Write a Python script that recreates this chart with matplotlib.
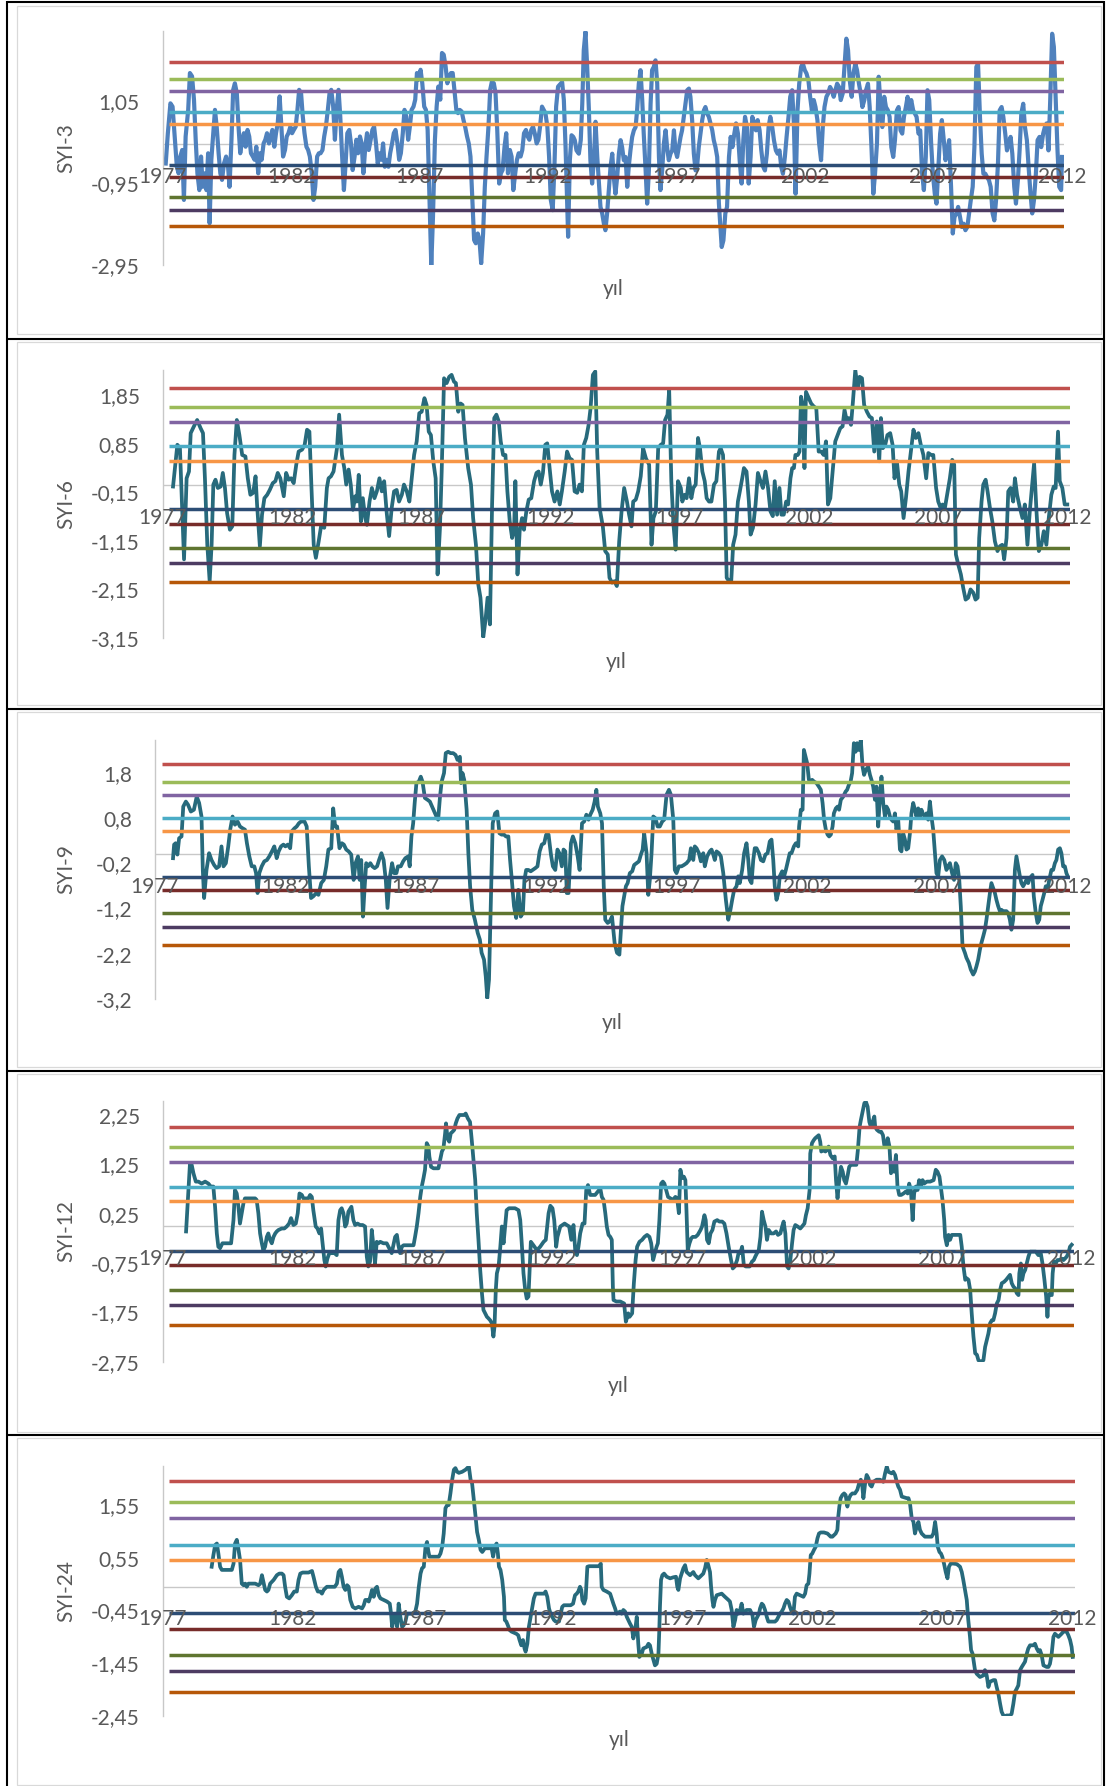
import matplotlib
matplotlib.use("Agg")
import matplotlib.pyplot as plt
from matplotlib.patches import Rectangle

# Standardised streamflow index (SYI) series, monthly positions counted from Jan 1977
syi3 = [
    (1.5, -0.47), (2.5, 0.27), (3.7, 1.0), (4.7, 0.92), (5.8, 0.11), (6.7, -0.55), (7.5, -0.71), (8.3, -0.30),
    (9.2, -0.14), (10.0, -1.36), (10.8, 0.19), (12.0, 0.84), (12.8, 1.74), (13.8, 1.66), (14.7, 1.09), (15.5, 0.11),
    (16.3, -0.71), (17.2, -1.12), (18.0, -0.30), (18.8, -1.04), (19.7, -0.71), (20.5, -1.12), (21.3, -0.22),
    (22.0, -1.93), (22.8, -0.38), (23.7, 0.27), (24.5, 0.84), (25.3, 0.43), (26.2, -0.22), (27.0, -0.71),
    (27.8, -0.87), (28.7, -0.47), (29.7, -0.30), (30.5, -0.47), (31.3, -1.04), (32.2, 0.11), (33.0, 1.33),
    (33.8, 1.49), (34.7, 1.25), (35.5, 0.43), (36.3, -0.22), (37.2, 0.11), (38.0, 0.27), (38.8, -0.06), (39.7, 0.35),
    (40.5, 0.19), (41.3, -0.22), (42.2, -0.30), (43.0, -0.38), (43.8, -0.06), (44.7, -0.71), (45.5, -0.22),
    (46.3, -0.38), (47.2, 0.02), (48.0, 0.11), (48.8, 0.27), (49.7, 0.02), (50.5, 0.19), (51.3, 0.35), (52.2, -0.06),
    (53.0, 0.27), (53.8, 0.51), (54.7, 1.17), (55.5, 0.43), (56.3, -0.30), (57.2, -0.14), (58.0, 0.19), (58.8, 0.27),
    (59.7, 0.43), (60.5, 0.27), (61.3, 0.35), (62.2, 0.43), (63.0, 0.84), (63.8, 1.33), (64.7, 1.25), (65.5, 0.68),
    (66.3, 0.27), (67.2, -0.06), (68.0, -0.14), (68.8, -0.30), (69.7, -0.71), (70.5, -1.36), (71.3, -1.04),
    (72.2, -0.30), (73.0, -0.22), (73.8, -0.22), (74.7, -0.14), (75.5, 0.19), (76.3, 0.43), (77.2, 0.84), (78.0, 1.25),
    (78.8, 1.33), (79.7, 0.92), (80.5, 0.11), (81.3, 0.84), (82.2, 1.33), (83.0, 0.68), (83.8, -0.22), (84.7, -1.12),
    (85.5, -0.47), (86.3, 0.27), (87.2, 0.35), (88.0, 0.02), (88.8, -0.63), (89.7, -0.30), (90.5, 0.11), (91.3, -0.22),
    (92.2, 0.19), (93.0, 0.02), (93.8, -0.71), (94.7, -0.06), (95.5, 0.27), (96.3, -0.14), (97.2, 0.11), (98.0, 0.35),
    (98.8, 0.43), (99.7, 0.02), (100.5, -0.47), (101.3, -0.22), (102.2, -0.38), (103.0, 0.02), (103.8, -0.55),
    (104.7, -0.38), (105.5, -0.55), (106.3, -0.22), (107.2, 0.02), (108.0, 0.27), (108.8, 0.35), (109.7, 0.02),
    (110.5, -0.38), (111.3, -0.22), (112.2, 0.27), (113.0, 0.84), (113.8, 0.68), (114.7, 0.11), (115.5, 0.43),
    (116.3, 0.84), (117.2, 0.92), (118.0, 1.09), (118.8, 1.74), (119.7, 1.58), (120.5, 1.82), (121.3, 1.49),
    (122.2, 0.92), (123.0, 0.84), (123.8, 0.35), (124.7, -1.36), (125.5, -2.96), (126.3, -1.77), (127.2, 0.11),
    (128.0, 0.92), (128.8, 1.41), (129.7, 1.09), (130.5, 2.23), (131.3, 2.19), (132.2, 1.90), (133.0, 1.49),
    (133.8, 1.66), (134.7, 1.74), (135.5, 1.74), (136.3, 1.33), (137.2, 0.84), (138.0, 0.76), (138.8, 0.84),
    (139.7, 0.80), (140.5, 0.60), (141.3, 0.43), (142.2, 0.19), (143.0, 0.02), (143.8, -0.30), (144.7, -1.36),
    (145.5, -2.34), (146.3, -2.42), (147.2, -2.18), (148.0, -2.34), (148.8, -2.91), (149.7, -2.18), (150.5, -1.04),
    (151.3, -0.30), (152.2, 0.43), (153.0, 1.33), (153.8, 1.53), (154.7, 1.49), (155.5, 1.25), (156.3, 0.35),
    (157.2, -0.96), (158.0, -0.71), (158.8, -0.63), (159.7, -0.06), (160.5, 0.27), (161.3, -0.71), (162.2, -0.14),
    (163.0, -0.30), (163.8, -1.12), (164.7, -0.71), (165.5, -0.38), (166.3, -0.22), (167.2, -0.30), (168.0, -0.14),
    (168.8, 0.27), (169.7, 0.35), (170.5, 0.19), (171.3, 0.11), (172.2, 0.35), (173.0, 0.43), (173.8, 0.27),
    (174.7, 0.02), (175.5, 0.11), (176.3, 0.43), (177.2, 0.92), (178.0, 0.84), (178.8, 0.76), (179.7, 0.43),
    (180.5, -0.30), (181.3, -1.36), (182.2, -1.61), (183.0, -0.55), (183.8, 0.92), (184.7, 1.41), (186.6, 1.52),
    (187.4, 1.08), (188.2, -0.07), (189.0, -1.53), (189.4, -2.26), (190.2, -0.39), (191.0, 0.22), (191.8, 0.18),
    (192.5, 0.10), (193.3, -0.15), (194.4, -0.23), (195.3, 0.10), (196.0, 0.99), (196.7, 2.30), (197.5, 2.75),
    (198.3, 1.89), (199.1, 0.83), (199.8, -0.39), (200.6, -0.96), (201.4, -0.39), (202.2, 0.55), (203.0, -0.31),
    (203.7, -0.88), (204.5, -1.53), (205.3, -1.69), (206.1, -1.94), (206.8, -2.10), (207.6, -1.69), (208.4, -1.12),
    (209.2, -0.55), (210.0, -0.23), (210.7, -0.80), (211.5, -1.21), (212.3, -0.80), (213.1, -0.23), (213.9, 0.10),
    (214.6, -0.07), (215.4, -0.39), (216.2, -0.31), (217.0, -1.04), (217.7, -0.55), (218.5, -0.15), (219.3, 0.18),
    (220.1, 0.34), (220.9, 0.42), (221.6, 0.83), (222.4, 1.48), (223.2, 1.81), (224.0, 1.08), (224.7, 0.26),
    (225.5, -0.55), (226.3, -1.45), (227.1, -0.64), (227.9, 0.99), (228.6, 1.81), (229.4, 1.89), (230.2, 2.05),
    (231.0, 1.48), (231.8, -0.31), (232.5, -1.12), (233.3, -0.64), (234.1, 0.02), (234.9, 0.34), (235.6, -0.07),
    (236.4, -0.39), (237.2, -0.23), (238.0, -0.15), (238.8, 0.34), (239.5, -0.15), (240.3, -0.31), (241.1, -0.07),
    (241.9, 0.18), (242.6, 0.34), (243.4, 0.67), (244.2, 0.99), (245.0, 1.32), (245.8, 1.36), (246.5, 1.16),
    (247.3, 0.59), (248.1, -0.23), (248.9, -0.64), (249.6, -0.55), (250.4, -0.07), (251.2, 0.26), (252.0, 0.59),
    (252.8, 0.83), (253.5, 0.91), (254.3, 0.75), (255.1, 0.67), (255.9, 0.51), (256.7, 0.34), (257.4, 0.10),
    (258.2, -0.07), (259.0, -0.31), (259.8, -1.45), (261.1, -2.51), (261.9, -2.35), (262.8, -1.69), (263.6, -1.53),
    (264.5, -0.31), (265.3, 0.18), (266.1, -0.07), (267.0, 0.26), (267.8, 0.51), (268.7, 0.26), (269.5, -0.39),
    (270.4, -0.96), (271.2, 0.10), (272.0, 0.67), (272.9, 0.42), (273.7, -0.96), (274.6, -0.31), (275.4, 0.67),
    (276.3, 0.51), (277.1, 0.34), (277.9, 0.59), (278.8, 0.34), (279.6, -0.15), (280.5, -0.55), (281.3, -0.64),
    (282.2, -0.23), (283.0, 0.42), (283.8, 0.67), (284.7, 0.42), (285.5, 0.10), (286.4, -0.15), (287.2, -0.23),
    (288.1, -0.15), (288.9, -0.55), (289.7, -0.72), (290.6, -0.31), (291.4, 0.18), (292.3, 0.67), (293.1, 1.16),
    (294.0, 1.32), (294.8, 0.51), (295.6, -1.21), (296.5, 0.83), (297.3, 1.48), (298.2, 1.89), (299.0, 1.97),
    (299.9, 1.81), (300.7, 1.73), (301.6, 1.56), (302.4, 1.16), (303.2, 0.83), (304.1, 1.08), (304.9, 0.91),
    (305.8, 0.59), (306.6, 0.02), (307.5, -0.39), (308.3, 0.42), (309.1, 0.91), (310.0, 1.16), (310.8, 1.24),
    (311.7, 1.40), (312.5, 1.32), (313.4, 1.16), (314.2, 1.32), (315.0, 1.48), (315.9, 1.40), (316.7, 1.08),
    (317.6, 1.24), (318.4, 1.89), (319.3, 2.58), (320.1, 2.30), (320.9, 1.56), (321.8, 1.16), (322.6, 1.73),
    (323.5, 1.97), (324.3, 1.81), (325.2, 1.48), (326.0, 1.24), (326.8, 0.91), (327.7, 1.08), (328.5, 1.32),
    (329.4, 1.48), (330.2, 0.91), (331.1, -0.15), (331.9, -1.21), (332.7, -0.72), (333.6, 0.02), (334.4, 1.65),
    (335.3, 0.91), (336.1, 0.42), (337.0, 1.16), (337.8, 0.91), (338.7, 0.83), (339.5, 0.67), (340.3, -0.07),
    (341.2, -0.31), (342.0, 0.10), (342.9, 0.83), (343.7, 0.91), (344.6, 0.34), (345.4, 0.26), (346.2, 0.67),
    (347.1, 0.91), (347.9, 1.16), (348.8, 0.83), (349.6, 1.08), (350.5, 0.83), (351.3, 0.75), (352.1, 0.67),
    (353.0, 0.26), (353.8, 0.34), (354.7, -0.72), (355.5, -1.12), (356.4, -0.31), (357.2, 1.32), (358.0, 1.08),
    (358.9, 0.02), (359.7, -0.72), (360.6, -1.21), (361.4, -1.45), (362.3, -0.55), (363.1, 0.26), (363.9, 0.59),
    (364.8, 0.10), (365.6, -0.39), (366.5, -0.15), (367.3, 0.10), (368.2, -1.04), (369.0, -2.18), (369.8, -1.78),
    (370.7, -1.69), (371.5, -1.53), (372.4, -1.78), (373.2, -2.02), (374.1, -1.94), (374.9, -2.10), (375.8, -2.02),
    (376.6, -1.69), (377.4, -1.37), (378.3, -1.04), (379.1, -0.07), (380.0, 1.89), (380.8, 1.97), (381.7, 0.67),
    (382.5, -0.23), (383.3, -0.72), (384.2, -0.72), (385.0, -0.80), (385.9, -0.88), (386.7, -1.04), (387.6, -1.69),
    (388.4, -1.86), (389.2, -1.37), (390.1, -0.47), (390.9, 0.83), (391.8, 0.91), (392.6, 0.67), (393.5, 0.26),
    (394.3, -0.15), (395.1, 0.02), (396.0, 0.18), (396.8, -0.23), (397.7, -1.04), (398.5, -1.45), (399.4, -0.88),
    (400.2, -0.15), (401.0, 0.75), (401.9, 0.99), (402.7, 0.42), (403.6, 0.10), (404.4, -0.55), (405.3, -1.21),
    (406.1, -1.69), (406.9, -1.37), (407.8, -0.72), (408.6, 0.10), (409.5, 0.18), (410.3, -0.07), (411.2, 0.26),
    (412.0, 0.42), (412.8, 0.51), (413.7, -0.15), (414.5, 1.08), (415.4, 2.70), (416.2, 2.38), (417.1, 1.08),
    (417.9, -0.15), (418.7, -1.04), (419.6, -1.12), (420.0, -0.31),
]

syi6 = [
    (4.8, -0.03), (6.8, 0.83), (8.0, 0.76), (9.9, -1.53), (11.1, 0.14), (12.2, 0.28), (13.0, 1.07), (14.5, 1.21),
    (16.0, 1.34), (17.6, 1.17), (18.7, 1.07), (19.6, 0.14), (20.7, -1.23), (21.8, -1.98), (22.7, -1.23), (23.5, 0.01),
    (24.5, 0.11), (25.6, -0.06), (26.9, -0.03), (27.9, 0.25), (28.9, -0.06), (29.9, -0.58), (31.2, -0.92),
    (32.3, -0.85), (33.3, 0.62), (34.4, 1.34), (35.6, 1.03), (36.9, 0.62), (38.4, 0.59), (39.5, 0.14), (40.7, -0.20),
    (42.0, -0.16), (43.1, 0.18), (43.8, -0.40), (45.1, -1.26), (46.1, -0.61), (47.2, -0.27), (48.5, -0.20),
    (49.7, -0.10), (51.1, 0.04), (52.3, 0.08), (53.4, 0.25), (54.6, 0.14), (56.2, -0.23), (57.3, 0.25), (58.5, 0.11),
    (59.6, 0.14), (60.8, 0.04), (62.0, 0.42), (63.1, 0.69), (64.7, 0.73), (65.9, 0.83), (67.0, 1.14), (68.1, 1.10),
    (69.0, 0.01), (70.1, -1.23), (71.1, -1.50), (72.4, -1.16), (73.5, -0.85), (75.0, -0.88), (76.2, -0.06),
    (77.0, 0.14), (78.1, 0.18), (79.3, 0.28), (80.9, 0.76), (81.9, 1.45), (83.2, 0.62), (84.3, 0.35), (85.2, 0.01),
    (86.3, 0.32), (87.3, 0.01), (88.3, -0.51), (89.4, -0.23), (90.1, -0.34), (91.0, 0.21), (92.0, -0.75),
    (92.9, -0.27), (94.0, -0.68), (94.8, -0.82), (96.0, -0.34), (97.1, -0.06), (98.3, -0.27), (99.4, -0.13),
    (100.6, 0.14), (101.7, -0.13), (102.8, 0.08), (104.0, -0.58), (105.1, -1.05), (106.3, -0.47), (107.4, -0.13),
    (108.6, -0.10), (109.7, -0.34), (111.0, -0.20), (112.0, 0.01), (113.3, -0.13), (114.5, -0.34), (115.6, 0.14),
    (116.7, 0.62), (117.9, 0.90), (119.1, 1.48), (120.2, 1.51), (121.5, 1.79), (122.5, 1.65), (123.5, 1.10),
    (124.5, 1.03), (125.6, 0.49), (126.7, 0.14), (127.6, -1.84), (128.7, -0.88), (129.5, 0.28), (130.6, 2.20),
    (131.8, 2.10), (133.0, 2.23), (134.1, 2.27), (135.2, 2.13), (136.1, 2.10), (137.2, 1.51), (138.3, 1.68),
    (139.2, 1.65), (140.3, 0.97), (141.8, 0.35), (143.1, 0.01), (144.1, -0.68), (145.4, -1.23), (146.5, -2.05),
    (147.5, -2.32), (148.8, -3.13), (149.8, -2.80), (150.8, -2.32), (151.9, -2.87), (152.9, -0.40), (153.9, 1.38),
    (154.9, 1.45), (156.0, 1.31), (156.9, 0.90), (158.0, 0.62), (159.1, 0.62), (160.0, -0.13), (161.1, -0.75),
    (162.2, -1.09), (163.1, -0.95), (163.7, 0.08), (164.7, -1.84), (165.7, -0.95), (166.8, -0.68), (167.7, -0.92),
    (168.8, -0.54), (169.9, -0.30), (171.1, -0.27), (172.4, 0.08), (173.5, 0.25), (174.5, 0.28), (175.5, 0.01),
    (176.5, 0.25), (177.6, 0.83), (178.5, 0.86), (179.6, 0.35), (180.7, -0.13), (181.9, -0.34), (183.2, -0.13),
    (184.3, -0.40), (185.3, -0.13), (186.6, 0.28), (187.7, 0.69), (188.9, 0.55), (190.0, 0.52), (191.2, -0.13),
    (192.4, -0.16), (193.5, 0.01), (194.6, -0.13), (195.5, 0.83), (196.6, 0.97), (197.7, 1.24), (198.6, 1.58),
    (199.7, 2.27), (200.8, 2.34), (201.7, 0.69), (202.8, -0.47), (204.3, -0.85), (205.4, -1.36), (206.6, -1.43),
    (207.4, -1.91), (208.6, -2.01), (209.7, -1.98), (210.8, -2.08), (211.9, -1.16), (213.0, -0.54), (214.2, -0.06),
    (215.5, -0.34), (216.5, -0.61), (217.6, -0.85), (218.4, -0.34), (219.6, -0.30), (220.7, -0.13), (221.9, 0.18),
    (223.0, 0.76), (224.3, 0.55), (225.8, 0.42), (226.9, -1.23), (227.8, -0.68), (228.9, -0.54), (230.0, 0.76),
    (231.2, 0.83), (232.3, 0.86), (233.2, 1.34), (234.3, 1.45), (235.1, 1.96), (236.1, 0.08), (237.1, -0.82),
    (238.1, -1.33), (239.2, 0.08), (240.5, -0.06), (241.2, -0.34), (242.3, -0.20), (243.2, -0.27), (244.3, 0.14),
    (245.4, -0.27), (246.3, -0.06), (247.4, 0.01), (248.5, 0.97), (249.4, 0.76), (250.5, 0.28), (251.6, 0.08),
    (252.5, -0.27), (253.6, -0.34), (254.7, -0.34), (255.9, 0.01), (257.0, 0.08), (258.2, 0.69), (259.0, 0.76),
    (260.1, 0.62), (261.0, -0.34), (261.8, -1.91), (262.9, -1.98), (263.9, -1.98), (264.8, -1.23), (265.9, -1.02),
    (267.0, -0.34), (267.9, -0.13), (269.0, 0.14), (269.8, 0.35), (271.0, 0.28), (272.1, -0.34), (272.9, -1.02),
    (274.0, -0.88), (275.2, -0.40), (276.3, 0.25), (277.5, 0.08), (278.6, -0.06), (279.8, 0.28), (281.0, -0.06),
    (282.1, -0.54), (283.2, -0.64), (284.1, 0.08), (285.2, -0.61), (286.3, -0.06), (287.2, -0.61), (288.3, -0.61),
    (289.4, -0.34), (290.3, -0.40), (291.4, 0.14), (292.2, 0.35), (293.0, 0.35), (293.7, 0.62), (294.8, 0.62),
    (295.6, 0.69), (296.3, 1.82), (297.1, 1.65), (297.9, 0.35), (298.6, 1.92), (299.9, 1.79), (301.0, 1.68),
    (302.2, 1.62), (303.4, 1.58), (304.5, 0.69), (305.7, 0.69), (306.8, 0.62), (307.9, 0.90), (308.8, -0.40),
    (309.9, -0.27), (311.0, 0.28), (312.2, 0.90), (313.3, 1.03), (314.5, 1.17), (315.6, 1.21), (316.5, 1.55),
    (317.6, 1.31), (318.4, 1.38), (319.5, 1.24), (320.4, 1.72), (321.5, 2.37), (322.6, 1.99), (323.5, 2.23),
    (324.6, 2.20), (325.6, 1.65), (326.9, 1.51), (328.1, 1.41), (329.2, 1.38), (330.3, 0.69), (331.5, 1.31),
    (332.6, 0.49), (333.4, 1.38), (334.3, 0.76), (335.4, 0.83), (336.4, 1.03), (337.7, 1.07), (338.8, 0.83),
    (339.7, 0.14), (340.8, 0.49), (341.9, 0.01), (342.8, -0.13), (343.9, -0.68), (345.0, -0.27), (346.2, 0.28),
    (347.3, 0.69), (348.5, 1.14), (349.6, 0.97), (350.8, 1.07), (351.9, 0.83), (353.1, 0.62), (354.4, 0.14),
    (355.4, 0.66), (356.7, 0.62), (357.7, 0.62), (359.0, -0.06), (360.0, -0.34), (361.1, -0.47), (362.0, -0.40),
    (363.1, -0.47), (364.4, -0.13), (365.4, 0.14), (366.5, 0.52), (367.4, 0.42), (368.2, -1.43), (369.3, -1.64),
    (370.5, -1.84), (371.6, -2.12), (372.7, -2.36), (373.9, -2.32), (375.0, -2.15), (376.3, -2.22), (377.3, -2.36),
    (378.3, -2.32), (379.0, -1.09), (380.1, -0.34), (380.9, 0.01), (382.0, 0.11), (382.9, -0.13), (384.0, -0.47),
    (385.1, -0.75), (386.3, -1.16), (387.5, -1.36), (388.6, -1.26), (389.7, -1.23), (390.6, -1.53), (391.7, -1.09),
    (392.5, -0.13), (393.6, -0.06), (394.8, -0.34), (395.6, 0.14), (396.6, -0.20), (397.9, -0.47), (399.1, -0.68),
    (400.2, -0.40), (401.4, -1.23), (402.5, -0.54), (403.6, 0.01), (404.5, 0.45), (405.6, -0.54), (406.7, -1.36),
    (407.9, -1.23), (409.0, -0.95), (410.2, -1.23), (411.3, -0.68), (412.5, -0.20), (413.6, -0.03), (414.5, -0.06),
    (415.6, 1.10), (416.4, 0.08), (417.6, -0.06), (418.7, -0.40), (419.9, -0.40),
]

syi9 = [
    (8.3, -0.09), (8.8, 0.21), (9.5, 0.24), (10.3, -0.01), (11.1, 0.35), (12.2, 0.39), (13.0, 1.05), (14.2, 1.16),
    (15.2, 1.09), (16.5, 0.94), (17.9, 0.98), (19.2, 1.27), (20.3, 1.13), (21.4, 0.83), (22.0, -0.35), (22.6, -0.97),
    (23.7, -0.35), (24.9, 0.02), (26.0, -0.13), (27.2, -0.24), (28.3, -0.31), (29.5, -0.27), (30.6, 0.17),
    (31.5, -0.27), (32.6, -0.20), (33.7, 0.17), (34.6, 0.54), (35.7, 0.83), (36.8, 0.65), (38.0, 0.72), (39.1, 0.61),
    (40.3, 0.57), (41.4, 0.54), (42.3, 0.24), (43.4, -0.05), (44.5, -0.27), (45.7, -0.27), (46.5, -0.42),
    (47.2, -0.86), (48.0, -0.42), (49.1, -0.27), (50.3, -0.16), (51.5, -0.13), (52.6, -0.05), (53.8, 0.06),
    (54.9, 0.17), (56.0, -0.09), (56.9, 0.06), (58.0, 0.17), (59.1, 0.21), (60.0, 0.17), (61.1, 0.21), (62.2, 0.13),
    (62.9, 0.50), (64.2, 0.57), (65.2, 0.61), (66.2, 0.68), (67.2, 0.72), (68.8, 0.72), (69.8, 0.61), (70.8, -0.27),
    (71.8, -0.97), (72.9, -0.93), (74.2, -0.86), (75.2, -0.90), (76.5, -0.64), (77.7, -0.57), (78.8, -0.27),
    (79.8, 0.10), (81.1, 0.13), (82.0, 1.01), (82.9, 0.61), (83.8, 0.61), (84.9, 0.13), (86.0, 0.24), (86.9, 0.21),
    (88.0, 0.10), (89.1, 0.06), (90.3, -0.01), (91.4, -0.57), (92.3, -0.20), (93.4, -0.05), (94.2, -0.57),
    (94.9, -0.13), (95.7, -1.38), (96.5, -0.71), (97.2, -0.20), (98.0, -0.27), (99.1, -0.20), (100.0, -0.27),
    (101.1, -0.31), (102.2, -0.27), (103.1, -0.13), (104.2, 0.02), (105.2, -0.13), (106.2, -0.57), (107.0, -1.19),
    (108.0, -0.53), (109.1, -0.20), (110.0, -0.42), (111.1, -0.42), (111.8, -0.27), (113.1, -0.27), (114.2, -0.16),
    (115.2, -0.09), (116.5, -0.05), (117.2, -0.27), (118.0, 0.39), (118.8, 0.68), (119.5, 1.13), (120.3, 1.57),
    (121.4, 1.60), (122.3, 1.71), (123.1, 1.60), (124.2, 1.24), (125.4, 1.20), (126.5, 1.16), (127.5, 1.05),
    (128.5, 0.94), (129.5, 0.83), (130.3, 0.76), (131.1, 1.24), (131.9, 1.60), (133.0, 1.79), (133.8, 2.23),
    (134.9, 2.26), (136.0, 2.23), (137.2, 2.23), (138.3, 2.19), (139.2, 2.08), (140.3, 2.15), (140.8, 1.57),
    (141.5, 1.79), (142.3, 1.64), (143.4, 0.98), (144.2, 0.02), (145.0, -0.71), (146.0, -1.23), (147.2, -1.45),
    (148.5, -1.74), (149.5, -1.89), (150.3, -2.18), (151.4, -2.33), (152.2, -2.70), (152.9, -3.18), (153.7, -2.77),
    (154.5, -1.15), (155.4, 0.68), (156.5, 0.90), (157.5, 0.94), (158.5, 0.46), (159.5, 0.43), (160.6, 0.43),
    (161.5, 0.39), (162.6, 0.39), (163.4, -0.13), (164.2, -0.57), (165.2, -1.15), (166.2, -1.41), (167.2, -0.79),
    (168.3, -1.38), (169.3, -1.30), (170.0, -0.57), (170.8, -0.35), (171.8, -0.35), (172.9, -0.38), (173.8, -0.35),
    (175.0, -0.31), (176.0, -0.27), (177.0, 0.06), (178.0, 0.21), (179.1, 0.24), (180.0, 0.43), (181.1, 0.43),
    (182.2, -0.01), (183.1, -0.27), (184.2, -0.35), (185.2, 0.10), (186.1, 0.02), (187.2, -0.27), (188.0, 0.10),
    (188.8, 0.06), (189.5, -0.86), (190.3, -0.86), (191.4, 0.24), (192.3, 0.39), (193.4, 0.24), (194.5, -0.05),
    (195.4, -0.35), (196.5, 0.68), (197.5, 0.72), (198.5, 0.87), (199.5, 0.76), (200.3, 0.87), (201.4, 0.98),
    (202.3, 1.16), (203.1, 1.42), (203.8, 1.05), (204.9, 0.90), (205.7, 0.68), (206.5, -0.71), (207.2, -1.45),
    (208.3, -1.52), (209.2, -1.49), (210.3, -1.38), (211.5, -1.96), (212.6, -2.18), (213.7, -2.22), (215.1, -1.15),
    (216.7, -0.71), (217.5, -0.64), (218.5, -0.42), (219.6, -0.38), (220.5, -0.24), (221.6, -0.20), (222.7, -0.16),
    (223.6, -0.01), (224.4, 0.10), (225.1, 0.46), (226.2, 0.02), (227.0, -0.90), (227.7, -0.57), (228.5, 0.02),
    (229.3, 0.83), (230.3, 0.79), (231.3, 0.61), (232.3, 0.61), (233.4, 0.72), (234.3, 0.76), (235.4, 1.31),
    (236.5, 1.42), (237.4, 1.31), (238.5, 0.76), (239.2, -0.35), (240.0, -0.42), (241.1, -0.27), (242.3, -0.27),
    (243.4, -0.24), (244.6, -0.20), (245.8, -0.13), (246.6, 0.13), (247.7, -0.13), (248.4, 0.17), (249.2, 0.13),
    (250.3, 0.02), (251.2, -0.16), (252.3, 0.02), (253.0, -0.27), (254.1, -0.05), (255.3, 0.06), (256.1, 0.10),
    (256.9, -0.01), (257.6, -0.13), (258.4, 0.06), (259.5, 0.02), (260.4, -0.05), (261.5, -0.42), (262.7, -1.01),
    (263.8, -1.45), (264.8, -1.23), (265.6, -1.01), (266.5, -0.79), (267.6, -0.71), (268.4, -0.49), (269.1, -0.64),
    (270.2, -0.35), (271.1, 0.02), (272.2, 0.24), (273.0, -0.13), (273.7, -0.57), (274.5, -0.64), (275.3, -0.13),
    (276.0, 0.13), (276.8, 0.13), (277.9, 0.02), (278.8, -0.13), (279.9, -0.16), (280.9, -0.01), (281.9, 0.02),
    (282.9, 0.28), (283.7, 0.32), (284.5, -0.13), (285.2, -0.71), (286.0, -1.01), (286.8, -0.86), (287.5, -0.49),
    (288.6, -0.38), (289.5, -0.49), (290.3, -0.35), (291.4, -0.13), (292.1, 0.02), (292.9, 0.02), (294.0, 0.17),
    (294.9, 0.24), (296.0, 0.17), (296.4, 0.61), (297.2, 0.98), (298.0, 0.98), (298.6, 2.30), (299.4, 2.15),
    (300.1, 2.01), (300.9, 1.64), (301.7, 1.60), (302.4, 1.64), (303.3, 1.60), (304.4, 1.57), (305.5, 1.49),
    (306.4, 1.42), (307.2, 1.13), (307.9, 0.76), (308.7, 0.54), (309.5, 0.43), (310.2, 0.39), (311.0, 0.43),
    (311.8, 0.61), (312.4, 0.90), (313.3, 1.01), (314.1, 1.05), (314.8, 0.98), (315.6, 1.20), (316.7, 1.27),
    (317.8, 1.38), (318.5, 1.42), (319.3, 1.53), (320.1, 1.60), (320.8, 1.79), (321.6, 2.45), (322.4, 2.26),
    (323.1, 2.45), (323.9, 2.30), (324.8, 2.52), (325.6, 1.93), (326.3, 1.75), (327.1, 1.86), (328.2, 1.93),
    (329.0, 1.75), (329.7, 1.64), (330.5, 1.49), (331.3, 1.20), (332.0, 1.49), (332.8, 0.61), (333.6, 1.27),
    (334.3, 1.71), (335.1, 1.13), (335.9, 0.83), (336.6, 1.05), (337.4, 0.98), (338.2, 0.83), (338.9, 0.76),
    (339.7, 0.72), (340.5, 0.90), (341.2, 0.54), (342.0, 0.76), (342.8, 0.10), (343.5, 0.06), (344.3, 0.46),
    (345.1, 0.32), (345.8, 0.10), (346.6, 0.13), (347.4, 0.46), (348.1, 0.90), (348.9, 1.13), (349.7, 0.98),
    (350.4, 0.83), (351.2, 1.01), (352.0, 0.83), (352.7, 0.98), (353.5, 0.87), (354.3, 0.83), (355.0, 0.90),
    (355.8, 0.76), (356.6, 1.16), (357.3, 0.83), (358.1, 0.54), (358.9, 0.02), (359.6, -0.42), (360.4, -0.49),
    (361.2, -0.13), (362.2, -0.05), (363.2, -0.13), (364.2, -0.35), (365.0, -0.27), (365.8, -0.20), (366.8, -0.42),
    (367.7, -0.57), (368.5, -0.20), (369.3, -0.27), (370.1, -0.57), (370.8, -1.15), (371.6, -2.04), (372.7, -2.18),
    (373.4, -2.29), (374.5, -2.40), (375.4, -2.55), (376.5, -2.66), (377.3, -2.59), (378.0, -2.48), (378.8, -2.33),
    (379.6, -2.11), (380.3, -1.96), (381.1, -1.82), (381.9, -1.67), (382.6, -1.45), (383.4, -1.15), (384.2, -0.86),
    (384.9, -0.64), (385.7, -0.75), (386.5, -0.86), (387.2, -1.01), (388.0, -1.15), (388.8, -1.26), (389.5, -1.23),
    (390.3, -1.26), (391.1, -1.26), (391.8, -1.26), (392.6, -1.30), (393.4, -1.45), (394.1, -1.67), (394.9, -1.45),
    (395.7, -0.35), (396.4, -0.05), (397.2, -0.27), (398.0, -0.49), (398.7, -0.64), (399.5, -0.71), (400.3, -0.64),
    (401.0, -0.57), (401.8, -0.64), (402.6, -0.53), (403.8, -0.46), (404.4, -0.93), (405.3, -1.30), (406.1, -1.52),
    (406.9, -1.45), (407.6, -1.15), (408.4, -1.01), (409.2, -0.86), (409.9, -0.71), (410.7, -0.79), (411.5, -0.57),
    (412.5, -0.35), (413.3, -0.35), (414.1, -0.20), (414.8, -0.13), (415.6, 0.10), (416.4, 0.13), (417.1, 0.02),
    (417.9, -0.27), (418.7, -0.27), (419.4, -0.42), (420.0, -0.49),
]

syi12 = [
    (10.8, -0.11), (11.9, 0.73), (12.6, 1.27), (13.4, 1.24), (14.2, 1.07), (15.3, 0.90), (16.5, 0.90), (18.0, 0.86),
    (19.6, 0.90), (21.1, 0.86), (22.2, 0.80), (23.4, 0.80), (24.2, 0.39), (25.0, -0.15), (25.7, -0.42), (26.5, -0.45),
    (27.6, -0.35), (28.8, -0.35), (30.3, -0.35), (31.6, -0.35), (32.7, 0.12), (33.4, 0.73), (34.2, 0.66),
    (35.0, 0.39), (35.7, 0.05), (36.5, 0.26), (37.3, 0.46), (38.0, 0.56), (39.6, 0.56), (41.1, 0.56), (42.7, 0.56),
    (43.4, 0.53), (44.2, 0.26), (45.0, -0.15), (45.8, -0.35), (46.5, -0.49), (47.3, -0.42), (48.1, -0.22),
    (48.8, -0.15), (49.6, -0.28), (50.4, -0.35), (51.2, -0.22), (52.0, -0.15), (52.7, -0.11), (53.5, -0.08),
    (55.0, -0.05), (56.2, -0.05), (57.3, -0.01), (58.4, 0.05), (59.3, 0.16), (60.4, 0.02), (61.5, 0.05), (62.4, 0.26),
    (63.2, 0.66), (64.3, 0.63), (65.0, 0.56), (66.1, 0.56), (67.3, 0.56), (68.1, 0.63), (68.9, 0.59), (69.6, 0.32),
    (70.7, -0.01), (71.5, -0.05), (72.4, -0.15), (73.2, -0.05), (73.7, -0.28), (74.7, -0.69), (75.3, -0.82),
    (76.1, -0.66), (77.0, -0.55), (78.1, -0.55), (79.4, -0.55), (80.4, -0.59), (81.2, 0.12), (82.0, 0.32),
    (82.7, 0.36), (83.5, 0.26), (84.3, -0.01), (85.0, 0.05), (85.8, 0.29), (87.2, 0.39), (88.1, 0.12), (88.9, 0.02),
    (90.0, 0.05), (91.2, 0.02), (92.4, 0.02), (93.5, -0.01), (94.3, -0.62), (95.0, -0.82), (95.8, -0.72),
    (96.6, -0.08), (97.4, -0.42), (98.1, -0.76), (98.9, -0.32), (99.7, -0.35), (100.5, -0.32), (102.0, -0.35),
    (103.5, -0.35), (104.3, -0.42), (105.1, -0.49), (105.8, -0.55), (106.6, -0.39), (107.4, -0.22), (108.2, -0.18),
    (108.9, -0.39), (109.7, -0.55), (110.5, -0.42), (111.3, -0.39), (112.8, -0.39), (114.3, -0.39), (115.9, -0.39),
    (116.6, -0.22), (117.4, -0.01), (118.2, 0.26), (119.0, 0.59), (119.7, 0.80), (120.5, 0.97), (121.2, 1.14),
    (122.0, 1.68), (122.8, 1.61), (123.2, 1.41), (124.0, 1.20), (125.1, 1.17), (126.4, 1.17), (127.4, 1.17),
    (128.2, 1.34), (129.0, 1.51), (129.7, 1.57), (130.5, 1.88), (130.9, 2.08), (131.6, 1.78), (132.4, 1.71),
    (133.1, 1.88), (133.9, 1.91), (134.7, 1.95), (135.4, 2.08), (136.2, 2.18), (137.1, 2.25), (138.2, 2.25),
    (139.3, 2.25), (140.0, 2.28), (141.0, 2.18), (142.0, 2.11), (142.8, 1.74), (143.6, 1.34), (144.4, 0.93),
    (145.1, 0.26), (145.9, -0.28), (146.7, -0.89), (147.5, -1.36), (148.2, -1.70), (149.0, -1.77), (149.8, -1.84),
    (150.5, -1.87), (151.3, -1.91), (152.1, -1.97), (152.8, -2.24), (153.3, -2.04), (153.9, -1.30), (154.4, -0.96),
    (155.2, -0.82), (156.0, -0.42), (156.7, -0.01), (157.5, -0.35), (158.2, -0.01), (158.9, 0.32), (160.0, 0.36),
    (161.3, 0.36), (162.8, 0.36), (164.4, 0.32), (165.2, 0.12), (166.0, -0.42), (166.7, -0.96), (167.5, -1.30),
    (168.2, -1.47), (169.0, -1.43), (170.1, -0.32), (171.3, -0.39), (172.9, -0.49), (174.4, -0.42), (176.0, -0.32),
    (177.0, -0.28), (178.3, 0.26), (179.1, 0.41), (180.1, 0.36), (180.9, 0.12), (181.8, -0.42), (182.4, -0.22),
    (183.7, -0.01), (184.7, 0.02), (185.7, 0.05), (186.7, 0.02), (187.8, -0.01), (188.8, -0.28), (189.8, 0.02),
    (190.6, -0.49), (191.4, -0.59), (192.1, -0.42), (192.9, -0.15), (194.0, 0.05), (194.9, 0.05), (195.7, 0.73),
    (196.5, 0.83), (197.5, 0.63), (198.6, 0.63), (199.8, 0.63), (201.1, 0.70), (202.2, 0.76), (202.9, 0.59),
    (203.7, 0.53), (204.5, 0.26), (205.2, -0.01), (206.0, -0.18), (206.8, -0.22), (207.5, -0.28), (208.0, -1.23),
    (208.3, -1.50), (209.6, -1.53), (211.4, -1.53), (213.2, -1.57), (214.0, -1.94), (215.1, -1.77), (215.7, -1.84),
    (216.9, -1.77), (217.7, -1.16), (218.5, -0.69), (219.2, -0.42), (220.3, -0.32), (221.5, -0.28), (222.6, -0.22),
    (223.8, -0.18), (224.9, -0.22), (225.7, -0.35), (226.6, -0.69), (227.4, -0.55), (228.2, -0.42), (228.8, -0.35),
    (229.5, 0.12), (230.3, 0.86), (231.1, 0.90), (231.8, 0.86), (232.6, 0.73), (233.5, 0.59), (234.6, 0.56),
    (235.7, 0.53), (236.9, 0.59), (237.7, 0.56), (238.5, 0.26), (239.2, 1.14), (240.0, 0.97), (240.8, 1.00),
    (241.5, 0.93), (242.0, 0.32), (242.6, -0.49), (243.4, -0.35), (244.2, -0.25), (244.9, -0.22), (246.2, -0.22),
    (247.2, -0.18), (248.5, -0.08), (249.2, -0.01), (250.3, 0.22), (250.9, 0.12), (251.5, -0.28), (252.3, -0.35),
    (253.1, -0.15), (254.0, -0.08), (254.9, 0.09), (256.2, 0.12), (257.2, 0.09), (258.5, 0.09), (259.5, 0.05),
    (260.5, -0.15), (261.5, -0.42), (262.6, -0.69), (263.4, -0.86), (264.3, -0.82), (265.4, -0.69), (266.2, -0.52),
    (266.9, -0.55), (267.7, -0.42), (268.5, -0.79), (269.4, -0.82), (270.3, -0.82), (271.2, -0.82), (272.3, -0.72),
    (273.1, -0.69), (273.8, -0.62), (274.6, -0.55), (275.4, -0.49), (276.2, -0.22), (276.9, 0.29), (277.7, 0.12),
    (278.5, -0.01), (279.2, -0.28), (280.0, -0.08), (281.1, -0.15), (282.3, -0.15), (283.4, -0.11), (284.3, -0.18),
    (285.4, -0.15), (286.2, -0.01), (286.9, 0.09), (287.7, -0.15), (288.5, -0.82), (289.2, -0.86), (290.0, -0.69),
    (290.8, -0.35), (291.5, -0.08), (292.3, 0.02), (293.4, -0.01), (294.6, -0.05), (295.4, -0.01), (296.5, 0.05),
    (297.2, 0.22), (298.0, 0.36), (298.9, 0.73), (299.2, 1.47), (300.0, 1.68), (300.8, 1.74), (301.5, 1.78),
    (302.3, 1.81), (303.1, 1.84), (303.8, 1.71), (304.3, 1.51), (305.1, 1.54), (306.2, 1.51), (306.9, 1.54),
    (307.7, 1.61), (308.5, 1.44), (309.6, 1.37), (310.5, 1.41), (311.1, 0.93), (311.8, 0.56), (312.6, 0.93),
    (313.4, 1.20), (314.2, 1.10), (314.9, 0.93), (315.7, 0.86), (316.5, 1.03), (317.2, 1.20), (318.0, 1.24),
    (319.2, 1.24), (320.5, 1.24), (321.2, 1.54), (322.0, 2.01), (322.6, 2.15), (323.4, 2.32), (324.2, 2.49),
    (324.9, 2.52), (325.7, 2.42), (326.5, 2.11), (327.2, 2.01), (328.0, 2.11), (328.8, 2.22), (329.2, 2.01),
    (330.0, 1.95), (331.1, 1.91), (332.0, 1.91), (332.8, 1.84), (333.4, 1.64), (334.2, 1.61), (335.0, 1.78),
    (335.8, 1.61), (336.5, 1.07), (337.2, 1.27), (338.0, 1.10), (338.8, 1.44), (339.5, 0.80), (340.3, 0.63),
    (341.2, 0.63), (342.3, 0.66), (343.4, 0.70), (344.2, 0.66), (344.9, 0.86), (345.7, 0.73), (346.5, 0.12),
    (347.2, 0.66), (348.0, 0.80), (348.8, 0.73), (349.5, 0.93), (350.3, 0.80), (351.1, 0.93), (351.8, 0.86),
    (353.1, 0.90), (354.6, 0.90), (356.2, 0.93), (357.2, 1.14), (358.0, 1.10), (358.9, 1.00), (359.5, 0.80),
    (360.3, 0.53), (361.1, 0.12), (361.5, -0.22), (362.3, -0.39), (363.1, -0.18), (363.8, -0.28), (364.6, -0.18),
    (365.4, -0.18), (366.9, -0.18), (368.5, -0.18), (369.2, -0.42), (370.0, -0.82), (370.8, -1.09), (371.5, -1.06),
    (372.3, -1.09), (373.1, -1.30), (373.8, -1.77), (374.6, -2.24), (375.4, -2.58), (376.2, -2.61), (376.9, -2.72),
    (378.0, -2.75), (379.2, -2.72), (380.0, -2.45), (380.8, -2.31), (381.5, -2.18), (382.3, -1.97), (383.1, -1.91),
    (383.8, -1.91), (384.6, -1.77), (385.4, -1.57), (386.2, -1.50), (386.9, -1.30), (387.7, -1.16), (388.8, -1.13),
    (389.7, -1.09), (390.8, -1.03), (391.5, -0.99), (392.3, -1.16), (393.1, -1.23), (393.8, -1.26), (394.6, -1.36),
    (395.4, -1.40), (395.8, -0.96), (396.5, -0.76), (397.1, -1.09), (397.7, -0.96), (398.5, -0.89), (399.2, -0.76),
    (400.0, -0.62), (400.8, -0.52), (402.3, -0.52), (403.4, -0.52), (404.6, -0.59), (405.7, -0.55), (406.5, -0.76),
    (407.4, -1.09), (408.2, -1.43), (408.8, -1.84), (409.3, -1.43), (410.0, -1.36), (410.8, -1.40), (411.2, -0.96),
    (411.8, -0.72), (412.6, -0.76), (413.4, -0.69), (414.3, -0.69), (415.4, -0.66), (416.2, -0.69), (416.9, -0.66),
    (417.7, -0.62), (418.5, -0.55), (419.2, -0.42), (420.0, -0.38),
]

syi24 = [
    (22.6, 0.38), (23.4, 0.60), (24.2, 0.79), (25.0, 0.82), (25.7, 0.63), (26.5, 0.38), (27.3, 0.32), (28.4, 0.32),
    (29.6, 0.32), (30.8, 0.32), (31.9, 0.32), (32.7, 0.44), (33.4, 0.82), (34.2, 0.89), (35.0, 0.70), (35.7, 0.51),
    (36.5, 0.06), (37.3, 0.03), (38.1, 0.06), (38.8, 0.00), (39.6, 0.06), (41.1, 0.06), (42.7, 0.06), (44.2, 0.03),
    (45.0, 0.06), (45.8, 0.22), (46.5, 0.09), (47.3, -0.06), (48.1, -0.09), (48.8, -0.06), (49.6, 0.06), (51.2, 0.13),
    (52.7, 0.22), (53.8, 0.25), (55.0, 0.25), (55.8, 0.22), (56.5, 0.00), (57.3, -0.19), (58.4, -0.22),
    (59.6, -0.16), (60.7, -0.09), (61.9, -0.09), (62.7, 0.13), (63.5, 0.25), (64.6, 0.27), (65.8, 0.27),
    (67.3, 0.27), (68.9, 0.30), (69.6, 0.19), (70.7, 0.00), (71.6, -0.09), (72.7, -0.09), (73.5, -0.13),
    (74.3, -0.06), (75.0, -0.03), (75.8, 0.00), (76.9, 0.00), (78.1, 0.00), (79.4, 0.00), (80.4, 0.06), (81.2, 0.28),
    (82.0, 0.32), (82.7, 0.19), (83.5, 0.00), (84.3, -0.06), (85.1, 0.03), (85.8, 0.00), (86.6, -0.25),
    (87.7, -0.38), (88.9, -0.41), (90.4, -0.38), (92.0, -0.41), (92.8, -0.35), (93.5, -0.25), (94.3, -0.25),
    (95.1, -0.28), (95.8, -0.19), (96.6, -0.06), (97.4, -0.19), (98.2, -0.03), (98.9, 0.00), (99.7, -0.16),
    (100.5, -0.22), (102.0, -0.25), (103.5, -0.28), (104.8, -0.32), (105.4, -0.51), (105.9, -0.76), (106.6, -0.63),
    (107.4, -0.51), (108.2, -0.76), (108.9, -0.32), (109.7, -0.57), (110.5, -0.76), (111.2, -0.73), (112.0, -0.66),
    (112.8, -0.51), (115.1, -0.51), (116.6, -0.47), (117.4, -0.32), (118.2, 0.00), (119.0, 0.25), (119.7, 0.35),
    (120.5, 0.38), (121.3, 0.76), (122.0, 0.85), (122.5, 0.70), (123.1, 0.57), (124.3, 0.57), (125.9, 0.57),
    (127.4, 0.57), (128.2, 0.63), (129.0, 0.76), (129.7, 1.01), (130.5, 1.49), (131.3, 1.55), (132.0, 1.55),
    (132.8, 1.77), (133.6, 2.03), (134.4, 2.22), (135.1, 2.25), (135.9, 2.18), (136.7, 2.16), (138.2, 2.18),
    (139.8, 2.22), (141.3, 2.28), (142.1, 2.03), (142.8, 1.96), (143.6, 1.65), (144.4, 1.33), (145.1, 1.04),
    (145.9, 0.89), (146.7, 0.70), (147.5, 0.66), (148.7, 0.73), (150.2, 0.73), (151.8, 0.73), (152.5, 0.57),
    (153.3, 0.76), (154.1, 0.82), (154.7, 0.63), (155.2, 0.38), (155.9, 0.32), (156.7, 0.13), (157.5, -0.19),
    (157.9, -0.63), (158.6, -0.66), (159.3, -0.73), (160.1, -0.82), (161.0, -0.85), (162.1, -0.87), (163.2, -0.89),
    (164.1, -0.92), (164.7, -1.01), (165.5, -1.11), (166.3, -1.01), (167.0, -1.17), (167.5, -1.23), (168.3, -1.08),
    (169.0, -0.76), (169.8, -0.57), (170.6, -0.38), (171.3, -0.22), (172.1, -0.13), (172.9, -0.13), (174.4, -0.13),
    (176.0, -0.13), (176.7, -0.09), (177.5, -0.19), (178.3, -0.41), (179.0, -0.51), (179.8, -0.57), (180.6, -0.63),
    (181.4, -0.66), (182.9, -0.66), (183.7, -0.51), (184.4, -0.38), (185.2, -0.35), (186.7, -0.35), (188.3, -0.35),
    (189.4, -0.32), (190.3, -0.16), (191.1, -0.13), (191.8, -0.09), (192.6, 0.00), (193.2, -0.06), (193.7, -0.25),
    (194.5, -0.32), (195.2, -0.22), (196.0, 0.38), (196.8, 0.39), (198.3, 0.39), (199.8, 0.39), (201.4, 0.39),
    (202.2, 0.44), (202.6, 0.00), (203.4, -0.06), (204.9, -0.09), (206.5, -0.13), (207.2, -0.22), (208.0, -0.32),
    (208.8, -0.41), (209.5, -0.51), (211.1, -0.47), (211.8, -0.51), (212.6, -0.44), (213.4, -0.47), (214.2, -0.57),
    (214.9, -0.63), (215.7, -0.70), (216.5, -0.76), (217.2, -0.98), (218.0, -0.85), (218.8, -0.57), (219.5, -1.08),
    (220.0, -1.33), (221.1, -1.27), (221.8, -1.17), (223.4, -1.14), (224.2, -1.08), (224.9, -1.11), (225.7, -1.27),
    (226.5, -1.39), (227.2, -1.49), (228.0, -1.46), (228.8, -1.27), (229.2, -0.82), (229.5, -0.38), (230.0, 0.13),
    (230.6, 0.22), (231.4, 0.25), (232.6, 0.19), (234.2, 0.16), (235.7, 0.18), (236.9, 0.19), (237.5, 0.00),
    (238.0, -0.06), (238.8, 0.16), (239.5, 0.25), (240.3, 0.35), (241.1, 0.41), (241.8, 0.28), (243.4, 0.22),
    (244.9, 0.28), (245.7, 0.22), (247.2, 0.16), (248.0, 0.19), (249.5, 0.25), (250.3, 0.35), (251.1, 0.51),
    (251.8, 0.41), (252.6, 0.28), (253.1, 0.00), (253.7, -0.25), (254.2, -0.38), (254.9, -0.25), (255.7, -0.16),
    (258.0, -0.13), (259.5, -0.19), (261.1, -0.25), (261.8, -0.28), (262.6, -0.44), (263.4, -0.76), (264.2, -0.63),
    (264.9, -0.44), (265.7, -0.51), (266.5, -0.44), (267.2, -0.32), (268.0, -0.51), (269.5, -0.44), (271.1, -0.44),
    (272.2, -0.54), (272.9, -0.76), (273.7, -0.63), (275.2, -0.51), (275.7, -0.41), (276.5, -0.32), (277.2, -0.35),
    (278.0, -0.44), (278.8, -0.57), (279.5, -0.66), (282.6, -0.66), (283.4, -0.63), (284.9, -0.51), (285.7, -0.47),
    (286.5, -0.41), (287.2, -0.32), (288.0, -0.25), (288.8, -0.28), (289.5, -0.38), (290.3, -0.47), (291.1, -0.51),
    (291.8, -0.19), (292.6, -0.13), (294.2, -0.16), (295.7, -0.19), (296.5, -0.13), (297.2, 0.03), (298.0, 0.06),
    (298.5, 0.25), (299.1, 0.60), (299.8, 0.63), (300.6, 0.70), (301.4, 0.76), (302.2, 0.92), (302.9, 1.01),
    (303.7, 1.03), (305.2, 1.03), (306.8, 1.01), (308.3, 0.95), (309.1, 0.95), (310.6, 1.01), (311.4, 1.08),
    (311.8, 1.33), (312.3, 1.52), (312.9, 1.68), (313.7, 1.74), (314.5, 1.77), (315.2, 1.74), (316.0, 1.52),
    (316.8, 1.68), (317.5, 1.74), (318.3, 1.77), (319.5, 1.77), (320.6, 1.84), (321.4, 1.96), (322.2, 2.03),
    (322.9, 1.90), (323.4, 1.68), (324.2, 1.96), (324.9, 2.12), (325.7, 2.06), (326.5, 1.93), (327.2, 1.90),
    (328.0, 1.99), (329.5, 2.03), (331.1, 2.03), (332.6, 1.99), (333.4, 2.15), (334.2, 2.28), (334.9, 2.18),
    (336.5, 2.15), (337.2, 2.18), (338.0, 2.12), (338.8, 1.99), (339.5, 1.90), (340.3, 1.84), (341.1, 1.71),
    (343.4, 1.68), (344.2, 1.68), (344.9, 1.58), (345.7, 1.30), (346.5, 1.23), (347.2, 1.01), (348.0, 1.14),
    (348.8, 1.23), (349.5, 1.08), (350.3, 1.01), (351.8, 0.95), (354.9, 0.95), (355.7, 1.01), (356.5, 1.23),
    (357.2, 1.01), (357.7, 0.76), (358.5, 0.66), (359.2, 0.63), (359.8, 0.57), (360.6, 0.44), (361.4, 0.28),
    (362.2, 0.16), (362.9, 0.38), (363.7, 0.44), (364.9, 0.44), (366.5, 0.43), (368.0, 0.38), (368.8, 0.28),
    (369.5, 0.13), (370.3, -0.06), (371.1, -0.25), (371.8, -0.63), (372.6, -0.95), (373.1, -1.20), (373.8, -1.27),
    (374.5, -1.46), (374.9, -1.58), (375.7, -1.65), (377.2, -1.71), (378.8, -1.68), (379.5, -1.58), (380.3, -1.68),
    (381.1, -1.90), (381.8, -1.80), (383.4, -1.77), (384.2, -1.77), (384.9, -1.90), (385.7, -2.03), (386.5, -2.22),
    (387.2, -2.37), (388.0, -2.44), (388.8, -2.47), (389.5, -2.44), (391.1, -2.44), (391.8, -2.41), (392.6, -2.22),
    (393.4, -1.99), (394.2, -1.93), (394.9, -1.87), (395.7, -1.58), (396.5, -1.52), (398.0, -1.42), (398.8, -1.27),
    (399.5, -1.17), (400.3, -1.11), (401.8, -1.11), (402.6, -1.08), (403.4, -1.17), (404.2, -1.23), (404.9, -1.20),
    (405.7, -1.30), (406.5, -1.49), (408.0, -1.52), (408.8, -1.52), (409.5, -1.46), (410.3, -1.27), (411.1, -0.95),
    (411.8, -0.89), (413.4, -0.95), (414.9, -0.89), (415.7, -0.85), (417.2, -0.85), (418.0, -0.92), (418.8, -1.01),
    (419.5, -1.14), (420.0, -1.33),
]

# drought / wetness class limits and their line colours
thresholds = [2.0, 1.6, 1.3, 0.8, 0.5, -0.5, -0.8, -1.3, -1.6, -2.0]
threshold_colors = ['#c0504d', '#9bbb59', '#8064a2', '#4bacc6', '#f79646',
                    '#2c4d75', '#772c2a', '#5f7530', '#4d3b62', '#b65708']
threshold_span = [3, 421]

years = [1977, 1982, 1987, 1992, 1997, 2002, 2007, 2012]
year_pos = [0, 60, 120, 180, 240, 300, 360, 420]

ticks_syi3 = [-2.95, -0.95, 1.05]
ticks_syi6 = [-3.15, -2.15, -1.15, -0.15, 0.85, 1.85]
ticks_syi9 = [-3.2, -2.2, -1.2, -0.2, 0.8, 1.8]
ticks_syi12 = [-2.75, -1.75, -0.75, 0.25, 1.25, 2.25]
ticks_syi24 = [-2.45, -1.45, -0.45, 0.55, 1.55]

W, H = 1107, 1786
TXT = '#595959'
FONT = ['Lato', 'DejaVu Sans']
plt.rcParams['font.family'] = FONT

fig = plt.figure(figsize=(W / 100, H / 100), dpi=100)

# table frame and chart borders, drawn in pixel units
frame = fig.add_axes([0, 0, 1, 1], zorder=-1)
frame.set_xlim(0, W)
frame.set_ylim(H, 0)
frame.axis('off')
for y in [2, 338.5, 708.5, 1070.5, 1435]:
    frame.plot([7, 1103.5], [y, y], color='black', lw=1.5, solid_capstyle='butt')
for x in [7, 1103.5]:
    frame.plot([x, x], [1, H], color='black', lw=1.5, solid_capstyle='butt')
for top, bot in [(5.5, 334), (341.5, 704.5), (711.5, 1067), (1073.5, 1431.5), (1437.5, 1784.5)]:
    frame.add_patch(Rectangle((16.5, top), 1084, bot - top, fill=False, edgecolor='#d9d9d9', lw=0.9))

# (series, axis title, line colour, width, ticks, decimals, y range, [x at first/last label, top px, bottom px])
panels = [
    (syi3, 'SYI-3', '#4f81bd', 3.0, ticks_syi3, 2, (-2.95, 2.76), (162.5, 1062.0, 31.3, 265.0)),
    (syi6, 'SYI-6', '#276a7c', 2.7, ticks_syi6, 2, (-3.15, 2.37), (162.7, 1067.5, 370.0, 638.0)),
    (syi9, 'SYI-9', '#276a7c', 2.7, ticks_syi9, 1, (-3.2, 2.52), (155.0, 1067.7, 740.0, 999.0)),
    (syi12, 'SYI-12', '#276a7c', 2.7, ticks_syi12, 2, (-2.75, 2.54), (162.7, 1071.7, 1100.7, 1361.7)),
    (syi24, 'SYI-24', '#276a7c', 2.7, ticks_syi24, 2, (-2.45, 2.29), (162.7, 1072.7, 1466.0, 1716.0)),
]

for series, title, color, lw, ticks, dec, ylim, (x0, x420, ytop, ybot) in panels:
    width = (x420 - x0) * 421 / 420
    ax = fig.add_axes([x0 / W, 1 - ybot / H, width / W, (ybot - ytop) / H])
    ax.set_facecolor('none')
    ax.set_xlim(0, 421)
    ax.set_ylim(*ylim)

    ax.axhline(0, color='#c8c8c8', lw=1.0, zorder=1)
    months = [p[0] for p in series]
    values = [p[1] for p in series]
    ax.plot(months, values, color=color, lw=lw, solid_joinstyle='round', zorder=2)
    for level, c in zip(thresholds, threshold_colors):
        ax.plot(threshold_span, [level, level], color=c, lw=2.5, solid_capstyle='butt', zorder=3)

    for s in ['top', 'right', 'bottom']:
        ax.spines[s].set_visible(False)
    ax.spines['left'].set_color('#c8c8c8')
    ax.spines['left'].set_linewidth(1.0)

    ax.set_xticks([])
    ax.set_yticks(ticks)
    ax.set_yticklabels([f'{t:.{dec}f}'.replace('.', ',') for t in ticks])
    ax.tick_params(axis='y', length=0, pad=16.5, labelsize=15, labelcolor=TXT)

    for yr, m in zip(years, year_pos):
        ax.annotate(str(yr), xy=(m, 0), xytext=(0, -23.5), textcoords='offset points',
                    ha='center', va='center', fontsize=15, color=TXT, zorder=5, annotation_clip=False)

    fig.text(66 / W, 1 - (ytop + ybot) / 2 / H, title, rotation=90, ha='center', va='center',
             fontsize=15, color=TXT)
    fig.text((x0 + width / 2) / W, 1 - (ybot + 24) / H, 'yıl', ha='center', va='center',
             fontsize=15, color=TXT)

fig.savefig('out.png', dpi=100)
